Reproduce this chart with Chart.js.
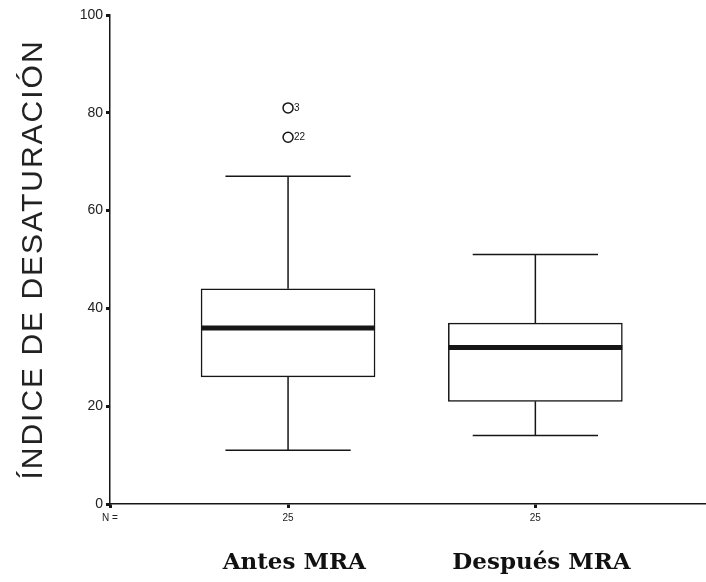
<!DOCTYPE html>
<html>
<head>
<meta charset="utf-8">
<script src="https://cdn.jsdelivr.net/npm/chart.js@4"></script>
<style>
  html, body { margin: 0; padding: 0; background: #fff; }
  #wrap { width: 706px; height: 582px; }
</style>
</head>
<body>
<div id="wrap"><canvas id="c"></canvas></div>
<script>
// datos
const groups = ["Antes MRA", "Después MRA"];
const nCounts = ["25", "25"];
const whiskerLow = [11, 14];
const q1 = [26, 21];
const medians = [36, 32];
const q3 = [44, 37];
const whiskerHigh = [67, 51];
const outlierGroup = [0, 0];
const outlierValues = [81, 75];
const outlierCases = ["3", "22"];
const yTicks = [0, 20, 40, 60, 80, 100];

const INK = "#161616";
const X_MIN = -0.72, X_MAX = 1.69;

// bigotes, medianas y etiquetas de casos atípicos
const boxExtras = {
  id: "boxExtras",
  afterDatasetsDraw(chart) {
    const { ctx, scales: { x, y } } = chart;
    const bars = chart.getDatasetMeta(0).data;
    ctx.save();
    ctx.strokeStyle = INK;
    groups.forEach((g, i) => {
      const cx = x.getPixelForValue(i);
      const w = bars[i].width;
      const cap = w * 0.36;
      ctx.lineWidth = 1.5;
      ctx.beginPath();
      ctx.moveTo(cx, y.getPixelForValue(q3[i]));
      ctx.lineTo(cx, y.getPixelForValue(whiskerHigh[i]));
      ctx.moveTo(cx, y.getPixelForValue(q1[i]));
      ctx.lineTo(cx, y.getPixelForValue(whiskerLow[i]));
      ctx.moveTo(cx - cap, y.getPixelForValue(whiskerHigh[i]));
      ctx.lineTo(cx + cap, y.getPixelForValue(whiskerHigh[i]));
      ctx.moveTo(cx - cap, y.getPixelForValue(whiskerLow[i]));
      ctx.lineTo(cx + cap, y.getPixelForValue(whiskerLow[i]));
      ctx.stroke();
      ctx.lineWidth = 5;
      ctx.beginPath();
      ctx.moveTo(cx - w / 2, y.getPixelForValue(medians[i]));
      ctx.lineTo(cx + w / 2, y.getPixelForValue(medians[i]));
      ctx.stroke();
    });
    ctx.fillStyle = INK;
    ctx.font = "10px 'Liberation Sans', Arial, sans-serif";
    ctx.textBaseline = "middle";
    outlierValues.forEach((v, k) => {
      ctx.fillText(outlierCases[k], x.getPixelForValue(outlierGroup[k]) + 6, y.getPixelForValue(v));
    });
    ctx.restore();
  }
};

// el título del eje Y del original va algo espaciado
function spacedTitle(s) {
  s.width = 110;
  if (s._spaced) return;
  const draw = s.drawTitle.bind(s);
  s.drawTitle = () => {
    s.ctx.save();
    s.ctx.letterSpacing = "2px";
    draw();
    s.ctx.restore();
  };
  s._spaced = true;
}

new Chart(document.getElementById("c"), {
  type: "bar",
  data: {
    datasets: [
      {
        data: groups.map((g, i) => ({ x: i, y: [q1[i], q3[i]] })),
        backgroundColor: "#fff",
        borderColor: INK,
        borderWidth: 1.5,
        borderSkipped: false,
        barThickness: 174
      },
      {
        type: "scatter",
        data: outlierValues.map((v, k) => ({ x: outlierGroup[k], y: v })),
        pointStyle: "circle",
        pointRadius: 5,
        backgroundColor: "#fff",
        borderColor: INK,
        borderWidth: 1.5
      }
    ]
  },
  plugins: [boxExtras],
  options: {
    responsive: true,
    maintainAspectRatio: false,
    animation: false,
    layout: { autoPadding: false, padding: { top: 15, right: 0, bottom: 0, left: 0 } },
    plugins: { legend: { display: false }, tooltip: { enabled: false } },
    scales: {
      x: {
        type: "linear",
        offset: false,
        min: X_MIN, max: X_MAX,
        weight: 0,
        afterBuildTicks: s => { s.ticks = [{ value: X_MIN }, ...groups.map((g, i) => ({ value: i }))]; },
        afterFit: s => { s.height = 28; },
        ticks: {
          autoSkip: false, maxRotation: 0, padding: 4,
          color: "#222",
          font: { family: "'Liberation Sans', Arial, sans-serif", size: 10 },
          callback: (v, i) => (i === 0 ? "N =" : nCounts[i - 1])
        },
        grid: { drawOnChartArea: false, offset: false, tickLength: 4, tickWidth: 3, tickColor: INK },
        border: { color: INK, width: 1.5 }
      },
      xl: {
        type: "linear",
        position: "bottom",
        offset: false,
        min: X_MIN, max: X_MAX,
        weight: 1,
        afterBuildTicks: s => { s.ticks = groups.map((g, i) => ({ value: i + 0.025 })); },
        afterFit: s => { s.height = 50; },
        ticks: {
          autoSkip: false, maxRotation: 0, padding: 17,
          color: "#111",
          font: { family: "'DejaVu Serif', serif", size: 23, weight: "bold" },
          callback: (v, i) => groups[i]
        },
        grid: { display: false, drawTicks: false },
        border: { display: false }
      },
      y: {
        min: 0, max: 100,
        afterBuildTicks: s => { s.ticks = yTicks.map(v => ({ value: v })); },
        afterFit: spacedTitle,
        ticks: {
          padding: 3,
          color: "#222",
          font: { family: "'Liberation Sans', Arial, sans-serif", size: 14 }
        },
        grid: { drawOnChartArea: false, tickLength: 4, tickWidth: 3, tickColor: INK },
        border: { color: INK, width: 1.5 },
        title: {
          display: true,
          text: "ÍNDICE DE DESATURACIÓN",
          color: "#222",
          padding: { top: 16, bottom: 0 },
          font: { family: "'Liberation Sans', Arial, sans-serif", size: 30 }
        }
      }
    }
  }
});
</script>
</body>
</html>
